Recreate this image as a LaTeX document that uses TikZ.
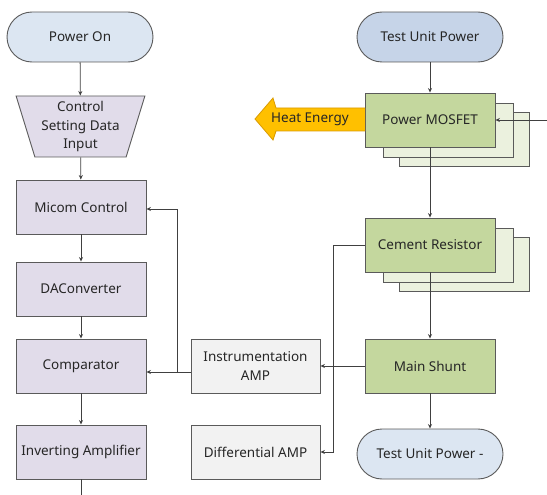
\documentclass[tikz,border=0pt]{standalone}
\usepackage{fontspec}
\setmainfont{Noto Sans}
\usetikzlibrary{shapes.geometric,arrows.meta}
\definecolor{lblue}{HTML}{DCE6F2}
\definecolor{mblue}{HTML}{C6D4E8}
\definecolor{lpurp}{HTML}{E1DCEA}
\definecolor{lgreen}{HTML}{C4D79E}
\definecolor{pgreen}{HTML}{EBF1DE}
\definecolor{lgrey}{HTML}{F2F2F2}
\definecolor{bord}{HTML}{5A5A5A}
\definecolor{txt}{HTML}{262626}
\definecolor{heat}{HTML}{FFC000}
\definecolor{heatb}{HTML}{D99A00}
\tikzset{
  base/.style={draw=bord, line width=0.9pt, text=txt, font=\fontsize{13.5}{18.5}\selectfont, align=center, inner sep=1pt},
  term/.style={base, rounded corners=25pt, minimum width=146pt, minimum height=50pt},
  pbox/.style={base, rectangle, fill=lpurp, minimum width=130pt, minimum height=54pt},
  gbox/.style={base, rectangle, fill=lgreen, minimum width=130pt, minimum height=54pt},
  sbox/.style={base, rectangle, fill=pgreen, minimum width=130pt, minimum height=54pt},
  ybox/.style={base, rectangle, fill=lgrey, minimum width=129pt, minimum height=54pt},
  arr/.style={draw=black!75, line width=0.8pt, -{Stealth[length=4.5pt,width=4pt]}},
  ln/.style={draw=black!75, line width=0.8pt}
}
\begin{document}
\begin{tikzpicture}[x=1pt,y=-1pt]
\useasboundingbox (0,0) rectangle (547,495);
% left column
\node[term, fill=lblue] (pon) at (80,37) {Power On};
\node[base, trapezium, shape border rotate=180, trapezium stretches=true, trapezium angle=72.3, fill=lpurp, minimum width=129pt, minimum height=61pt, inner sep=0pt] (csd) at (80.5,126.5) {Control\\Setting Data\\Input};
\node[pbox] (micom) at (81,207) {Micom Control};
\node[pbox] (dac) at (81,289) {DAConverter};
\node[pbox] (comp) at (81,366) {Comparator};
\node[pbox] (inv) at (81,452) {Inverting Amplifier};
% middle
\node[ybox] (inst) at (255.5,366) {Instrumentation\\AMP};
\node[ybox] (diff) at (255.5,452) {Differential AMP};
% right column
\node[term, fill=mblue] (tup) at (430,37) {Test Unit Power};
\node[sbox] (mos3) at (464,139) {};
\node[sbox] (mos2) at (448,130) {};
\node[gbox] (mos) at (430,120) {Power MOSFET};
\node[sbox] (cem3) at (464,264) {};
\node[sbox] (cem2) at (448,255) {};
\node[gbox] (cem) at (430,245) {Cement Resistor};
\node[gbox] (shunt) at (430,366) {Main Shunt};
\node[term, fill=lblue] (tupm) at (430,454) {Test Unit Power -};
% heat arrow
\draw[fill=heat, draw=heatb, line width=0.8pt, line join=miter] (365,108) -- (276,108) -- (273,98) -- (255,119) -- (273,140) -- (276,131) -- (365,131);
\node[text=txt, font=\fontsize{13.5}{16}\selectfont, inner sep=0pt] (heattxt) at (310,119.5) {Heat Energy};
% coordinates
\coordinate (j1) at (177,372);
\coordinate (j2) at (333,245);
\coordinate (rin) at (547,120);
\coordinate (bot) at (81,495);
% connectors
\draw[arr] (pon) -- (csd);
\draw[arr] (csd) -- (micom);
\draw[arr] (micom) -- (dac);
\draw[arr] (dac) -- (comp);
\draw[arr] (comp) -- (inv);
\draw[ln] (inv) -- (bot);
\draw[arr] (tup) -- (mos);
\draw[arr] (mos) -- (cem);
\draw[arr] (cem) -- (shunt);
\draw[arr] (shunt) -- (tupm);
\draw[arr] (shunt.west) -- (inst.east);
\draw[arr] ([yshift=-6pt]inst.west) -- ([yshift=-6pt]comp.east);
\draw[arr] (j1) |- ([yshift=-2pt]micom.east);
\draw[arr] (cem.west) -- (j2) |- (diff.east);
\draw[arr] (rin) -- (mos.east);
\end{tikzpicture}
\end{document}
